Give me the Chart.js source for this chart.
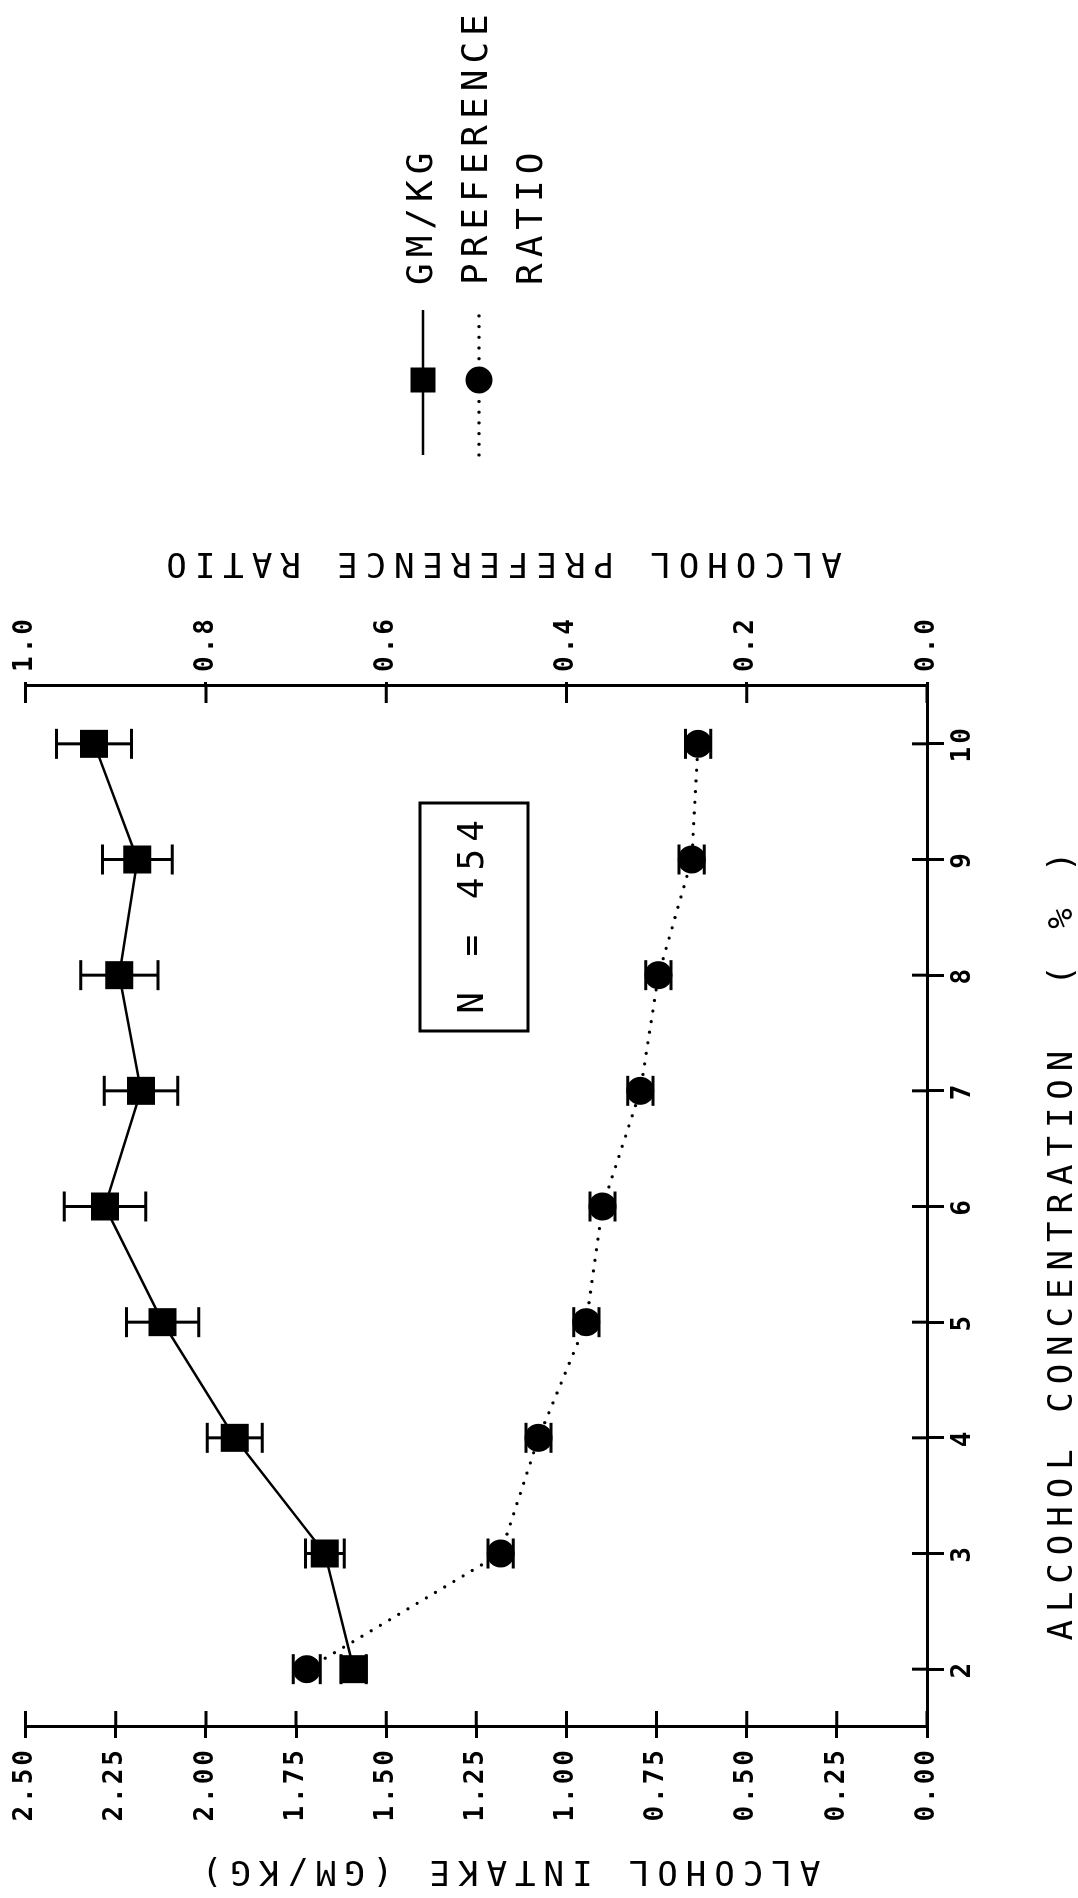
<!DOCTYPE html>
<html>
<head>
<meta charset="utf-8">
<script src="https://cdn.jsdelivr.net/npm/chart.js@4.4.1/dist/chart.umd.min.js"></script>
<style>
  html, body { margin: 0; padding: 0; background: #fff; }
  #page { position: relative; width: 1078px; height: 1898px; overflow: hidden; background: #fff; }
  /* The figure is laid out in landscape and turned a quarter turn counter-clockwise onto the page */
  #wrap { position: absolute; left: 0; top: 0; width: 1898px; height: 1078px;
          transform-origin: 0 0; transform: translate(0, 1898px) rotate(-90deg); }
  canvas { display: block; }
</style>
</head>
<body>
<div id="page"><div id="wrap"><canvas id="c" width="1898" height="1078"></canvas></div></div>
<script>
// Alcohol concentration offered (%)
const concentrations = [2, 3, 4, 5, 6, 7, 8, 9, 10];
// Mean alcohol intake (g/kg) and its error
const intakeGmKg = [1.59, 1.67, 1.92, 2.12, 2.28, 2.18, 2.24, 2.19, 2.31];
const intakeErr  = [0.035, 0.054, 0.076, 0.10, 0.113, 0.102, 0.107, 0.097, 0.104];
// Mean alcohol preference ratio and its error
const preferenceRatio = [0.688, 0.473, 0.431, 0.378, 0.36, 0.318, 0.298, 0.261, 0.254];
const preferenceErr   = [0.015, 0.014, 0.014, 0.014, 0.014, 0.014, 0.014, 0.014, 0.014];
// Axis tick values
const intakeTicks = [0, 0.25, 0.5, 0.75, 1.0, 1.25, 1.5, 1.75, 2.0, 2.25, 2.5];
const preferenceTicks = [0, 0.2, 0.4, 0.6, 0.8, 1.0];
const sampleSize = 454;

const INK = '#000';
const TICK_FONT = { family: '"DejaVu Sans Mono", monospace', size: 26, weight: 'bold' };
const LABEL_FAMILY = '"DejaVu Sans Mono", monospace';

function spacedText(ctx, text, x, y, size, spacing, align) {
  ctx.font = size + 'px ' + LABEL_FAMILY;
  ctx.letterSpacing = spacing + 'px';
  ctx.textAlign = align || 'center';
  ctx.textBaseline = 'middle';
  ctx.fillStyle = INK;
  const dx = (align === 'left') ? 0 : spacing / 2;
  ctx.fillText(text, x + dx, y);
}

// Spacing for the library's tick labels
const letterSpacingPlugin = {
  id: 'tickSpacing',
  beforeDraw(chart) { chart.ctx.letterSpacing = '3px'; }
};

// Inner halves of the axis ticks, which cross the axis lines
const innerTicksPlugin = {
  id: 'innerTicks',
  afterDraw(chart) {
    const { ctx, chartArea: a, scales } = chart;
    ctx.save();
    ctx.strokeStyle = INK;
    ctx.lineWidth = 3;
    ctx.beginPath();
    intakeTicks.forEach(v => {
      const py = scales.y.getPixelForValue(v);
      ctx.moveTo(a.left, py); ctx.lineTo(a.left + 16, py);
    });
    preferenceTicks.forEach(v => {
      const py = scales.y2.getPixelForValue(v);
      ctx.moveTo(a.right, py); ctx.lineTo(a.right - 17, py);
    });
    concentrations.forEach(v => {
      const px = scales.x.getPixelForValue(v);
      ctx.moveTo(px, a.bottom); ctx.lineTo(px, a.bottom - 15);
    });
    ctx.stroke();
    ctx.restore();
  }
};

// Error bars with end caps for both series
const errorBarsPlugin = {
  id: 'errorBars',
  afterDatasetsDraw(chart) {
    const { ctx, scales } = chart;
    ctx.save();
    ctx.strokeStyle = INK;
    ctx.lineWidth = 3;
    const draw = (vals, errs, scale) => {
      vals.forEach((v, i) => {
        const px = scales.x.getPixelForValue(concentrations[i]);
        const lo = scale.getPixelForValue(v - errs[i]);
        const hi = scale.getPixelForValue(v + errs[i]);
        ctx.beginPath();
        ctx.moveTo(px, lo); ctx.lineTo(px, hi);
        ctx.moveTo(px - 15, lo); ctx.lineTo(px + 15, lo);
        ctx.moveTo(px - 15, hi); ctx.lineTo(px + 15, hi);
        ctx.stroke();
      });
    };
    draw(intakeGmKg, intakeErr, scales.y);
    draw(preferenceRatio, preferenceErr, scales.y2);
    ctx.restore();
  }
};

// Axis titles, sample-size box and key
const annotationPlugin = {
  id: 'annotations',
  afterDraw(chart) {
    const { ctx } = chart;
    ctx.save();
    // left axis title
    ctx.save();
    ctx.translate(28, 511); ctx.rotate(-Math.PI / 2);
    spacedText(ctx, 'ALCOHOL INTAKE (GM/KG)', 0, 0, 34, 8);
    ctx.restore();
    // right axis title
    ctx.save();
    ctx.translate(1336, 504); ctx.rotate(-Math.PI / 2);
    spacedText(ctx, 'ALCOHOL PREFERENCE RATIO', 0, 0, 34, 8);
    ctx.restore();
    // bottom axis title
    spacedText(ctx, 'ALCOHOL CONCENTRATION  ( % )', 652, 1063, 34, 8);

    // N box
    ctx.strokeStyle = INK;
    ctx.lineWidth = 3;
    ctx.strokeRect(867, 420, 228, 108);
    spacedText(ctx, 'N = ' + sampleSize, 981, 474, 36, 7);

    // key
    ctx.lineWidth = 2.5;
    ctx.beginPath();
    ctx.moveTo(1443, 423); ctx.lineTo(1588, 423);
    ctx.stroke();
    ctx.fillStyle = INK;
    ctx.fillRect(1518 - 12.5, 423 - 12.5, 25, 25);

    ctx.save();
    ctx.lineWidth = 3.3;
    ctx.lineCap = 'round';
    ctx.setLineDash([0, 10.7]);
    ctx.beginPath();
    ctx.moveTo(1443, 479); ctx.lineTo(1588, 479);
    ctx.stroke();
    ctx.restore();
    ctx.beginPath();
    ctx.arc(1518, 479, 13.5, 0, Math.PI * 2);
    ctx.fill();

    spacedText(ctx, 'GM/KG', 1613, 423, 36, 6, 'left');
    spacedText(ctx, 'PREFERENCE', 1613, 478, 36, 6, 'left');
    spacedText(ctx, 'RATIO', 1613, 533, 36, 6, 'left');
    ctx.restore();
  }
};

const fixedTicks = values => scale => { scale.ticks = values.map(v => ({ value: v })); };

new Chart(document.getElementById('c'), {
  type: 'line',
  data: {
    datasets: [
      {
        label: 'GM/KG',
        yAxisID: 'y',
        data: concentrations.map((c, i) => ({ x: c, y: intakeGmKg[i] })),
        borderColor: INK,
        backgroundColor: INK,
        borderWidth: 2.5,
        pointStyle: 'rect',
        pointRadius: 19.8,
        pointBorderWidth: 0,
        tension: 0
      },
      {
        label: 'PREFERENCE RATIO',
        yAxisID: 'y2',
        data: concentrations.map((c, i) => ({ x: c, y: preferenceRatio[i] })),
        borderColor: INK,
        backgroundColor: INK,
        borderWidth: 3.3,
        borderDash: [0, 10.7],
        borderCapStyle: 'round',
        pointStyle: 'circle',
        pointRadius: 14,
        pointBorderWidth: 0,
        tension: 0
      }
    ]
  },
  options: {
    responsive: false,
    animation: false,
    devicePixelRatio: 1,
    layout: { padding: { top: 21.5, left: 0, right: 0, bottom: 0 } },
    plugins: { legend: { display: false }, tooltip: { enabled: false } },
    scales: {
      x: {
        type: 'linear', position: 'bottom', min: 1.5, max: 10.5,
        afterBuildTicks: fixedTicks(concentrations),
        afterFit: s => { s.height = 151; },
        ticks: { color: INK, font: TICK_FONT, padding: 4, maxRotation: 0, minRotation: 0, autoSkip: false },
        grid: { drawOnChartArea: false, drawTicks: true, tickLength: 17, color: INK, lineWidth: 3 },
        border: { display: true, color: INK, width: 3 }
      },
      y: {
        type: 'linear', position: 'left', min: 0, max: 2.5,
        afterBuildTicks: fixedTicks(intakeTicks),
        afterFit: s => { s.width = 171; },
        ticks: { color: INK, font: TICK_FONT, padding: 9, callback: v => Number(v).toFixed(2) },
        grid: { drawOnChartArea: false, drawTicks: true, tickLength: 11, color: INK, lineWidth: 3 },
        border: { display: true, color: INK, width: 3 }
      },
      y2: {
        type: 'linear', position: 'right', min: 0, max: 1,
        afterBuildTicks: fixedTicks(preferenceTicks),
        afterFit: s => { s.width = 686; },
        ticks: { color: INK, font: TICK_FONT, padding: 10, callback: v => Number(v).toFixed(1) },
        grid: { drawOnChartArea: false, drawTicks: true, tickLength: 4, color: INK, lineWidth: 3 },
        border: { display: true, color: INK, width: 3 }
      }
    }
  },
  plugins: [letterSpacingPlugin, errorBarsPlugin, innerTicksPlugin, annotationPlugin]
});
</script>
</body>
</html>
